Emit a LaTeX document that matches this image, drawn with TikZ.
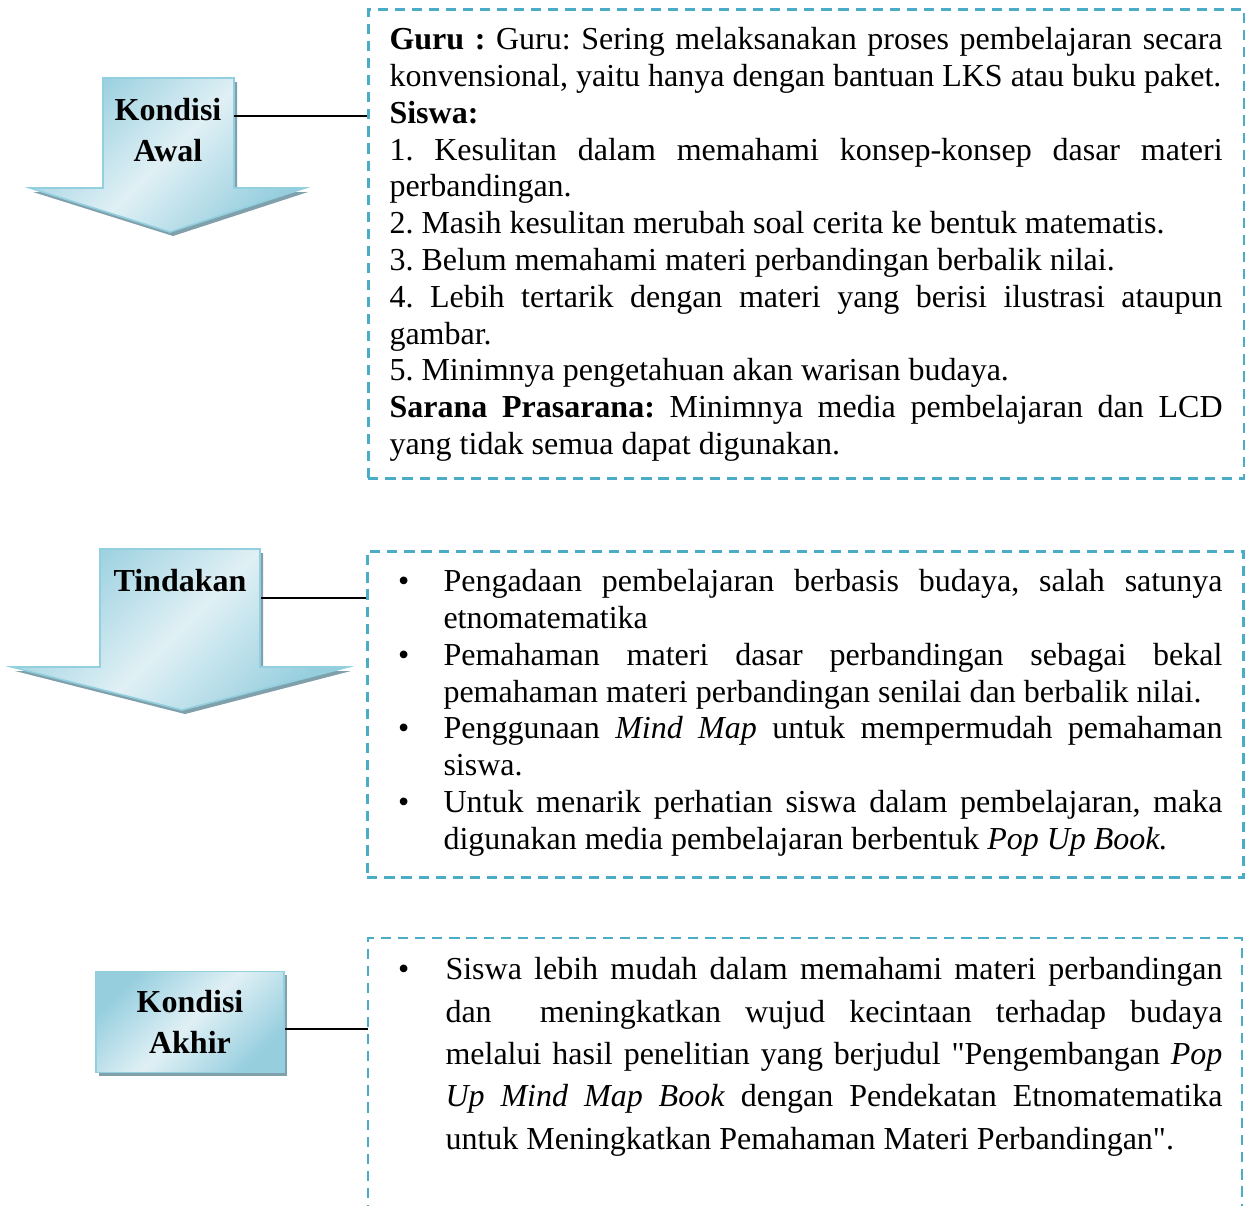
\documentclass[tikz,border=0pt]{standalone}
\usepackage{fontspec}
\setmainfont{Liberation Serif}
\usetikzlibrary{calc,positioning,shadows}
\setlength{\parindent}{0pt}
\setlength{\parskip}{0pt}
\frenchspacing

\definecolor{garis}{HTML}{4BACC6}
\definecolor{biruTua}{RGB}{150,206,222}
\definecolor{biruMuda}{RGB}{224,240,245}
\definecolor{tepi}{RGB}{146,208,224}
\definecolor{bayang}{RGB}{128,160,172}

\newcommand{\butir}[2][18pt]{\hangindent=#1\hangafter=1\noindent\makebox[#1][l]{\hspace{1pt}\textbullet}#2\par}

\tikzset{
  frame/.style={draw=garis, line width=1pt, dash pattern=on 3.8pt off 2.6pt, inner sep=0pt},
  panah/.style={draw=tepi, line width=0.6pt, shading=axis, left color=biruTua, right color=biruTua, middle color=biruMuda, shading angle=45},
  judul/.style={font=\bfseries\fontsize{12}{15.4}\selectfont, align=center, inner sep=0pt},
  kotak/.style={panah, judul, minimum width=70.5pt, minimum height=38pt,
    drop shadow={shadow xshift=1.2pt, shadow yshift=-1.2pt, fill=bayang, opacity=1}},
  isi/.style={anchor=north west, inner sep=0pt, text width=312.4pt, align=justify, font=\fontsize{12}{13.8}\selectfont},
  hubung/.style={draw=black, line width=0.6pt}
}

\begin{document}
\begin{tikzpicture}[x=0.375pt, y=-0.375pt]
\useasboundingbox (0,0) rectangle (1245,1205);

% bingkai putus-putus
\node[frame, anchor=north west, minimum width=328.5pt, minimum height=175.9pt] (bingkaiAwal) at (367,8) {};
\node[frame, anchor=north west, minimum width=328.5pt, minimum height=122.3pt] (bingkaiTindakan) at (366,550) {};
\coordinate (bingkaiAkhir) at (368,938);
\draw[frame] (368,1215) |- (1242,938) -- (1242,1215);

% panah kondisi awal
\fill[bayang, shift={(3,4)}] (103,78) -- (234,78) -- (234,188) -- (305,188) -- (170,232) -- (30,188) -- (103,188) -- cycle;
\path[panah] (103,78) -- (234,78) -- (234,188) -- (305,188) -- (170,232) -- (30,188) -- (103,188) -- cycle;
\node[judul, anchor=north] (awal) at (168,98) {Kondisi\\Awal};

% panah tindakan
\fill[bayang, shift={(3,4)}] (100,549) -- (260,549) -- (260,667) -- (348,667) -- (182,710) -- (12,667) -- (100,667) -- cycle;
\path[panah] (100,549) -- (260,549) -- (260,667) -- (348,667) -- (182,710) -- (12,667) -- (100,667) -- cycle;
\node[judul, anchor=north] (tindakan) at (180,569) {Tindakan};

% kotak kondisi akhir
\node[kotak] (akhir) at (190,1022) {Kondisi\\Akhir};

% garis penghubung
\coordinate (awalKanan) at (234,116);
\coordinate (tindakanKanan) at (261,598);
\draw[hubung] (awalKanan) -- (bingkaiAwal.west |- awalKanan);
\draw[hubung] (tindakanKanan) -- (bingkaiTindakan.west |- tindakanKanan);
\draw[hubung] ($(akhir.east)+(0,7)$) -- (bingkaiAkhir |- {$(akhir.east)+(0,7)$});

% isi
\node[isi] (isiAwal) at (389,27) {%
\textbf{Guru :} Guru: Sering melaksanakan proses pembelajaran secara \linebreak konvensional, yaitu hanya dengan bantuan LKS atau buku paket.\par
\textbf{Siswa:}\par
1. Kesulitan dalam memahami konsep-konsep dasar materi \linebreak perbandingan.\par
2. Masih kesulitan merubah soal cerita ke bentuk matematis.\par
3. Belum memahami materi perbandingan berbalik nilai.\par
4. Lebih tertarik dengan materi yang berisi ilustrasi ataupun \linebreak gambar.\par
5. Minimnya pengetahuan akan warisan budaya.\par
\textbf{Sarana Prasarana:} Minimnya media pembelajaran dan LCD \linebreak yang tidak semua dapat digunakan.};

\node[isi, text width=310.1pt] (isiTindakan) at (395,569) {%
\butir{Pengadaan pembelajaran berbasis budaya, salah satunya \linebreak etnomatematika}
\butir{Pemahaman materi dasar perbandingan sebagai bekal \linebreak pemahaman materi perbandingan senilai dan berbalik nilai.}
\butir{Penggunaan \textit{Mind Map} untuk mempermudah pemahaman \linebreak siswa.}
\butir{Untuk menarik perhatian siswa dalam pembelajaran, maka \linebreak digunakan media pembelajaran berbentuk \textit{Pop Up Book.}}};

\node[isi, text width=310.1pt, font=\fontsize{12}{15.9}\selectfont] (isiAkhir) at (395,957) {%
\butir[18.75pt]{Siswa lebih mudah dalam memahami materi perbandingan \linebreak dan~ meningkatkan wujud kecintaan terhadap budaya \linebreak melalui hasil penelitian yang berjudul \textquotedbl Pengembangan \textit{Pop} \linebreak \textit{Up Mind Map Book} dengan Pendekatan Etnomatematika \linebreak untuk Meningkatkan Pemahaman Materi Perbandingan\textquotedbl.}};
\end{tikzpicture}
\end{document}
